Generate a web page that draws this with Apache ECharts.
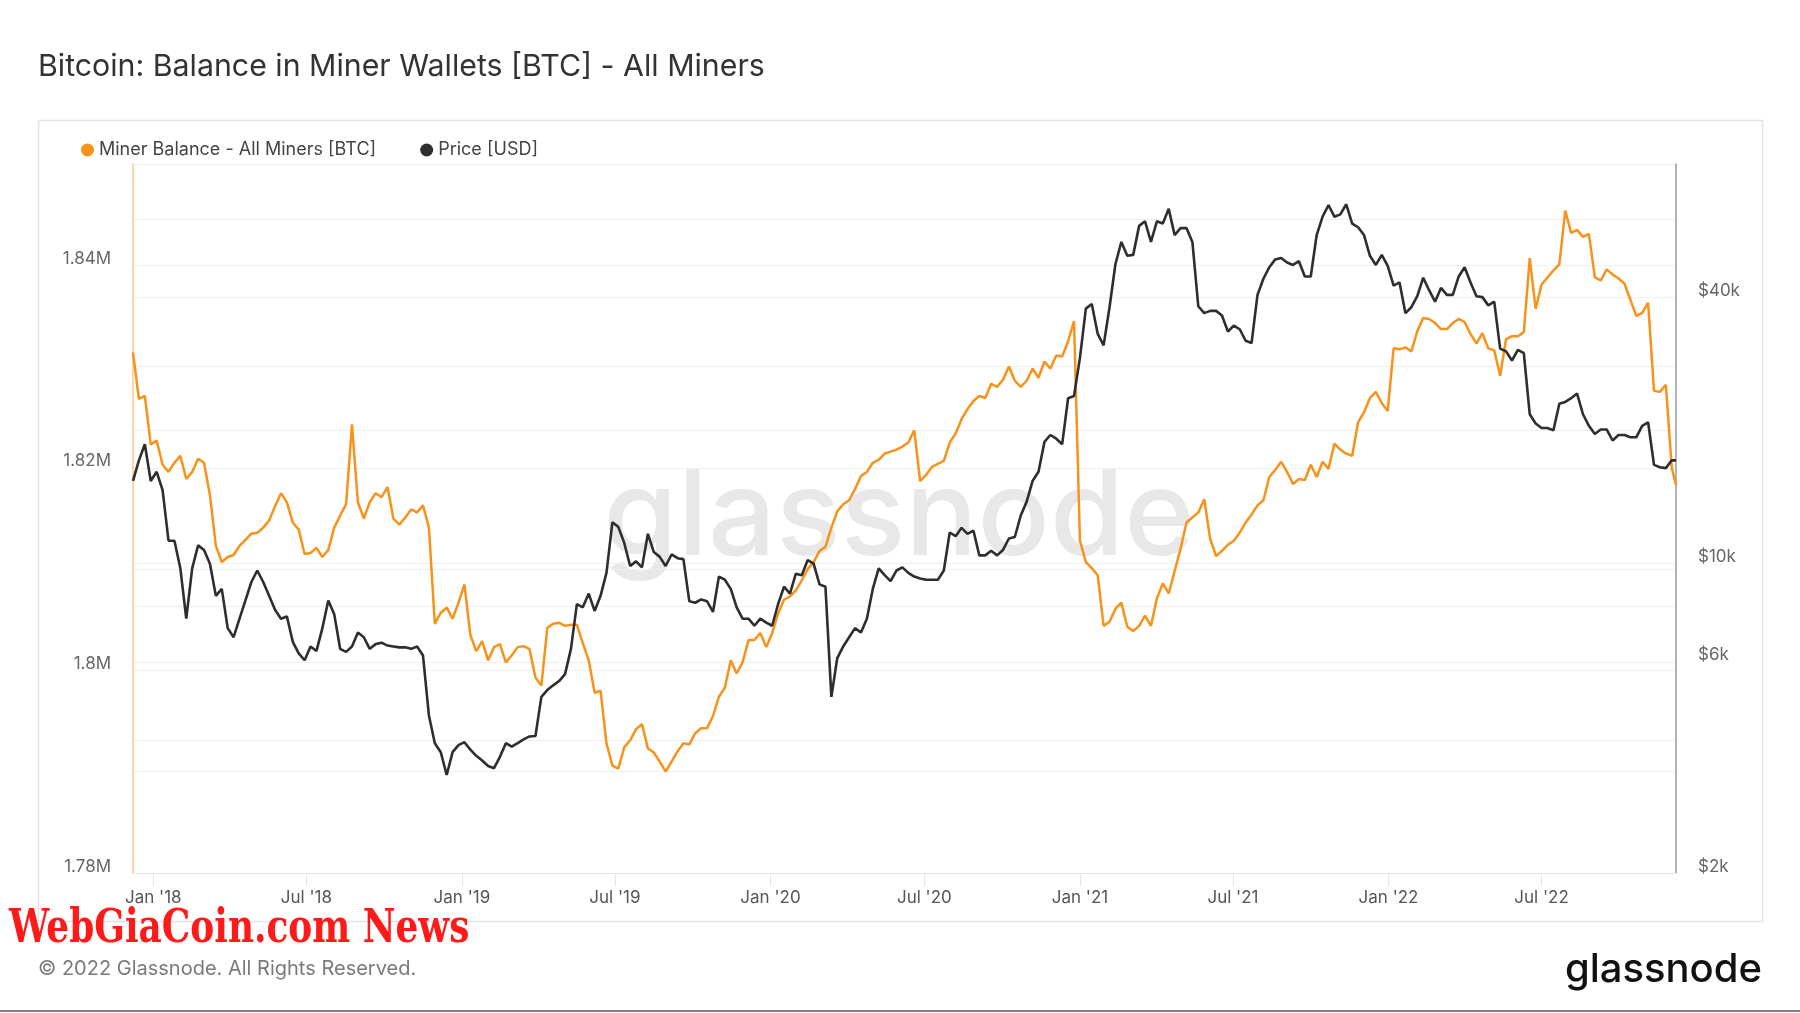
<!DOCTYPE html>
<html>
<head>
<meta charset="utf-8">
<script src="https://cdn.jsdelivr.net/npm/echarts@6/dist/echarts.min.js"></script>
<style>
html,body{margin:0;padding:0;background:#ffffff;}
#chart{width:1800px;height:1013px;}
</style>
</head>
<body>
<div id="chart"></div>
<script>
// ---------- data (weekly samples) ----------
const seriesStart = [2017, 11, 8];   // 8 Dec 2017 (UTC), first sample
const axisEnd = [2022, 11, 7];       // 7 Dec 2022 (UTC), last sample / axis end
const stepDays = 7;

const minerBalance = [
  1831400, 1826800, 1827100, 1822300, 1822700, 1820300, 1819600, 1820500, 1821200, 1818900,
  1819600, 1820900, 1820500, 1817300, 1812300, 1810700, 1811200, 1811400, 1812300, 1812900,
  1813500, 1813600, 1814100, 1814800, 1816200, 1817500, 1816600, 1814600, 1813900, 1811500,
  1811600, 1812100, 1811200, 1811900, 1814100, 1815300, 1816400, 1824300, 1816600, 1815000,
  1816600, 1817500, 1817100, 1818100, 1815000, 1814400, 1815100, 1815900, 1815600, 1816300,
  1814100, 1804600, 1805700, 1806200, 1805100, 1806700, 1808500, 1803500, 1801900, 1802900,
  1801000, 1802300, 1802600, 1800800, 1801500, 1802300, 1802400, 1802100, 1799300, 1798500,
  1804200, 1804600, 1804700, 1804400, 1804500, 1804500, 1802700, 1801000, 1797800, 1798000,
  1792800, 1790600, 1790300, 1792400, 1793100, 1794200, 1794700, 1792300, 1791900, 1791000,
  1790000, 1791000, 1792000, 1792800, 1792700, 1793800, 1794300, 1794300, 1795500, 1797400,
  1798300, 1801000, 1799700, 1800800, 1803000, 1803000, 1803700, 1802300, 1803700, 1805600,
  1807000, 1807300, 1807900, 1808900, 1810000, 1810700, 1811800, 1812200, 1814100, 1815700,
  1816400, 1816800, 1817900, 1819200, 1819600, 1820500, 1820800, 1821400, 1821600, 1821800,
  1822100, 1822500, 1823700, 1818700, 1819300, 1820100, 1820400, 1820700, 1822500, 1823400,
  1824800, 1825800, 1826600, 1827100, 1826900, 1828300, 1828000, 1828700, 1830000, 1828600,
  1828000, 1828600, 1829800, 1828900, 1830500, 1829800, 1831100, 1831000, 1832500, 1834500,
  1812800, 1810700, 1810100, 1809400, 1804400, 1804800, 1806100, 1806700, 1804300, 1803900,
  1804400, 1805400, 1804400, 1807100, 1808600, 1807600, 1809800, 1812000, 1814600, 1815100,
  1815600, 1816900, 1813000, 1811300, 1811800, 1812400, 1812800, 1813600, 1814600, 1815400,
  1816300, 1816800, 1819100, 1819800, 1820600, 1819600, 1818400, 1818900, 1818800, 1820300,
  1819100, 1820600, 1819900, 1822400, 1821800, 1821400, 1821200, 1824500, 1825500, 1826900,
  1827500, 1826400, 1825600, 1831800, 1831700, 1831900, 1831500, 1833500, 1834800, 1834700,
  1834300, 1833700, 1833700, 1834300, 1834700, 1834400, 1833200, 1832300, 1833300, 1831800,
  1831600, 1829100, 1832700, 1833000, 1833000, 1833400, 1840700, 1835700, 1838100, 1838800,
  1839500, 1840100, 1845400, 1843200, 1843500, 1842800, 1843100, 1838800, 1838500, 1839600,
  1839100, 1838700, 1838200, 1836600, 1835000, 1835300, 1836300, 1827600, 1827500, 1828200,
  1820000, 1818300
];

const priceUsd = [
  15380, 17120, 18620, 15380, 16130, 14660, 11270, 11270, 9760, 7510,
  9760, 11000, 10740, 10000, 8460, 8770, 7150, 6820, 7510, 8260,
  9090, 9650, 9090, 8460, 7870, 7510, 7600, 6660, 6270, 6050,
  6500, 6350, 7150, 8260, 7690, 6420, 6320, 6500, 6990, 6820,
  6420, 6580, 6630, 6530, 6500, 6470, 6470, 6420, 6500, 6200,
  4540, 3930, 3750, 3330, 3750, 3890, 3950, 3800, 3680, 3590,
  3490, 3450, 3660, 3930, 3860, 3930, 4010, 4070, 4080, 5000,
  5180, 5310, 5430, 5630, 6420, 8100, 7970, 8560, 7820, 8460,
  9530, 12400, 12110, 11140, 9880, 10120, 9810, 11680, 10620, 10360,
  9880, 10490, 10290, 10240, 8220, 8160, 8300, 8220, 7780, 9350,
  9200, 8770, 7970, 7510, 7510, 7240, 7510, 7360, 7240, 8100,
  8870, 8560, 9490, 9420, 10190, 10000, 8980, 8870, 5000, 6120,
  6500, 6820, 7150, 6990, 7510, 8770, 9760, 9420, 9130, 9650,
  9810, 9530, 9350, 9260, 9200, 9200, 9200, 9650, 11760, 11540,
  12050, 11680, 11880, 10440, 10440, 10690, 10440, 10740, 11400, 11490,
  12850, 13810, 15380, 16130, 18840, 19530, 19160, 18620, 23650, 23930,
  29180, 37700, 38620, 33060, 31140, 37970, 47550, 53340, 49620, 49860,
  57980, 59380, 53340, 59380, 58680, 63350, 55280, 57310, 57310, 53340,
  38160, 36820, 37260, 37260, 36380, 33460, 34520, 33860, 31890, 31510,
  40500, 44040, 46760, 48700, 49060, 47900, 47320, 48240, 44560, 44560,
  55280, 60820, 64570, 60820, 61560, 64880, 58680, 57560, 55280, 49620,
  47320, 49860, 47090, 42500, 43200, 36820, 37970, 40220, 44260, 41490,
  39080, 41980, 40500, 40500, 44560, 46760, 43200, 40220, 40020, 38340,
  39080, 30620, 30180, 28780, 30400, 29900, 21760, 20740, 20250, 20250,
  20010, 22980, 23200, 23650, 24230, 21760, 20490, 19630, 20100, 20100,
  18980, 19530, 19530, 19300, 19300, 20490, 20870, 16720, 16520, 16440,
  17120, 17120
];

// axis ticks
const xTickDates = [[2018,0,1],[2018,6,1],[2019,0,1],[2019,6,1],[2020,0,1],[2020,6,1],[2021,0,1],[2021,6,1],[2022,0,1],[2022,6,1]];
const monthNames = ['Jan','Feb','Mar','Apr','May','Jun','Jul','Aug','Sep','Oct','Nov','Dec'];
const balanceMin = 1780000, balanceMax = 1850000, balanceStep = 10000;
const balanceLabelValues = [1780000, 1800000, 1820000, 1840000];
const priceMin = 2000, priceMax = 80000;
const priceGridValues = [2000, 4000, 6000, 8000, 10000, 20000, 40000, 60000];
const priceLabelValues = [2000, 6000, 10000, 40000];

// ---------- build ----------
const DAY = 86400000;
const t0 = Date.UTC(...seriesStart);
const tEnd = Date.UTC(...axisEnd);
const dates = minerBalance.map((_, i) => Math.min(t0 + i * stepDays * DAY, tEnd));
const balanceData = minerBalance.map((v, i) => [dates[i], v]);
const priceData = priceUsd.map((v, i) => [dates[i], v]);
const xTicks = xTickDates.map(d => Date.UTC(...d));

const FONT = 'Inter, "Noto Sans", sans-serif';
const chart = echarts.init(document.getElementById('chart'), null, {renderer: 'canvas'});

chart.setOption({
  backgroundColor: '#ffffff',
  animation: false,
  textStyle: {fontFamily: FONT},
  legend: {
    left: 81, top: 141, padding: 0,
    icon: 'circle', itemWidth: 13, itemHeight: 13, itemGap: 44,
    textStyle: {fontSize: 18, color: '#444', fontFamily: FONT},
    data: ['Miner Balance - All Miners [BTC]', 'Price [USD]']
  },
  grid: {left: 133, right: 124, top: 164, bottom: 140, containLabel: false},
  xAxis: {
    type: 'value',
    min: t0, max: tEnd,
    axisLine: {show: true, lineStyle: {color: '#e6e6e6', width: 1}},
    axisTick: {show: true, length: 13, lineStyle: {color: '#e6e6e6'}, customValues: xTicks},
    axisLabel: {
      customValues: xTicks, margin: 16, fontSize: 17, color: '#555', fontFamily: FONT,
      formatter: v => { const d = new Date(v); return monthNames[d.getUTCMonth()] + " '" + String(d.getUTCFullYear()).slice(2); }
    },
    splitLine: {show: false}
  },
  yAxis: [
    {
      type: 'value', position: 'left',
      min: balanceMin, max: balanceMax, interval: balanceStep,
      axisLine: {show: true, lineStyle: {color: '#fcc98d', width: 1.5}},
      axisTick: {show: false},
      axisLabel: {
        margin: 22, fontSize: 17, color: '#666', fontFamily: FONT,
        verticalAlign: 'bottom', lineHeight: 13,
        formatter: v => balanceLabelValues.includes(v) ? (v / 1e6) + 'M' : ''
      },
      splitLine: {show: true, lineStyle: {color: '#efefef', width: 1}}
    },
    {
      type: 'log', logBase: 10, position: 'right',
      min: priceMin, max: priceMax,
      axisLine: {show: true, lineStyle: {color: '#9a9a9a', width: 1.5}},
      axisTick: {show: false, customValues: priceGridValues},
      axisLabel: {
        customValues: priceLabelValues,
        margin: 22, fontSize: 17, color: '#666', fontFamily: FONT,
        verticalAlign: 'bottom', lineHeight: 13,
        formatter: v => '$' + Math.round(v / 1000) + 'k'
      },
      splitLine: {show: true, lineStyle: {color: '#efefef', width: 1}}
    }
  ],
  series: [
    {
      name: 'Miner Balance - All Miners [BTC]', type: 'line', yAxisIndex: 0,
      data: balanceData, showSymbol: false, symbol: 'none',
      lineStyle: {color: '#f7931a', width: 2.5}, itemStyle: {color: '#f7931a'}, z: 3
    },
    {
      name: 'Price [USD]', type: 'line', yAxisIndex: 1,
      data: priceData, showSymbol: false, symbol: 'none',
      lineStyle: {color: '#2e2e2e', width: 2.6}, itemStyle: {color: '#2e2e2e'}, z: 4
    }
  ],
  graphic: [
    {type: 'rect', z: -10, silent: true, shape: {x: 38.5, y: 120.5, width: 1724, height: 801},
     style: {fill: 'none', stroke: '#e3e3e3', lineWidth: 1.5}},
    {type: 'text', z: -5, silent: true, x: 899, y: 519,
     style: {text: 'glassnode', fontSize: 120, fontFamily: FONT, fontWeight: 500, fill: '#e8e8e8', align: 'center', verticalAlign: 'middle'}},
    {type: 'text', silent: true, x: 38, y: 67,
     style: {text: 'Bitcoin: Balance in Miner Wallets [BTC] - All Miners', fontSize: 30.3, fontFamily: FONT, fill: '#333', align: 'left', verticalAlign: 'middle'}},
    {type: 'text', silent: true, x: 38, y: 969,
     style: {text: '\u00a9 2022 Glassnode. All Rights Reserved.', fontSize: 20, fontFamily: FONT, fill: '#7a7a7a', align: 'left', verticalAlign: 'middle'}},
    {type: 'text', silent: true, x: 1762, y: 970,
     style: {text: 'glassnode', fontSize: 40, fontFamily: FONT, fontWeight: 500, fill: '#111', align: 'right', verticalAlign: 'middle'}},
    {type: 'text', silent: true, x: 9, y: 930, scaleX: 0.78,
     style: {text: 'WebGiaCoin.com News', fontSize: 46, fontFamily: '"DejaVu Serif", serif', fontWeight: 'bold', fill: '#ff1a1a', align: 'left', verticalAlign: 'middle'}},
    {type: 'line', silent: true, shape: {x1: 0, y1: 1011, x2: 1800, y2: 1011},
     style: {stroke: '#808080', lineWidth: 2}}
  ]
});
</script>
</body>
</html>
